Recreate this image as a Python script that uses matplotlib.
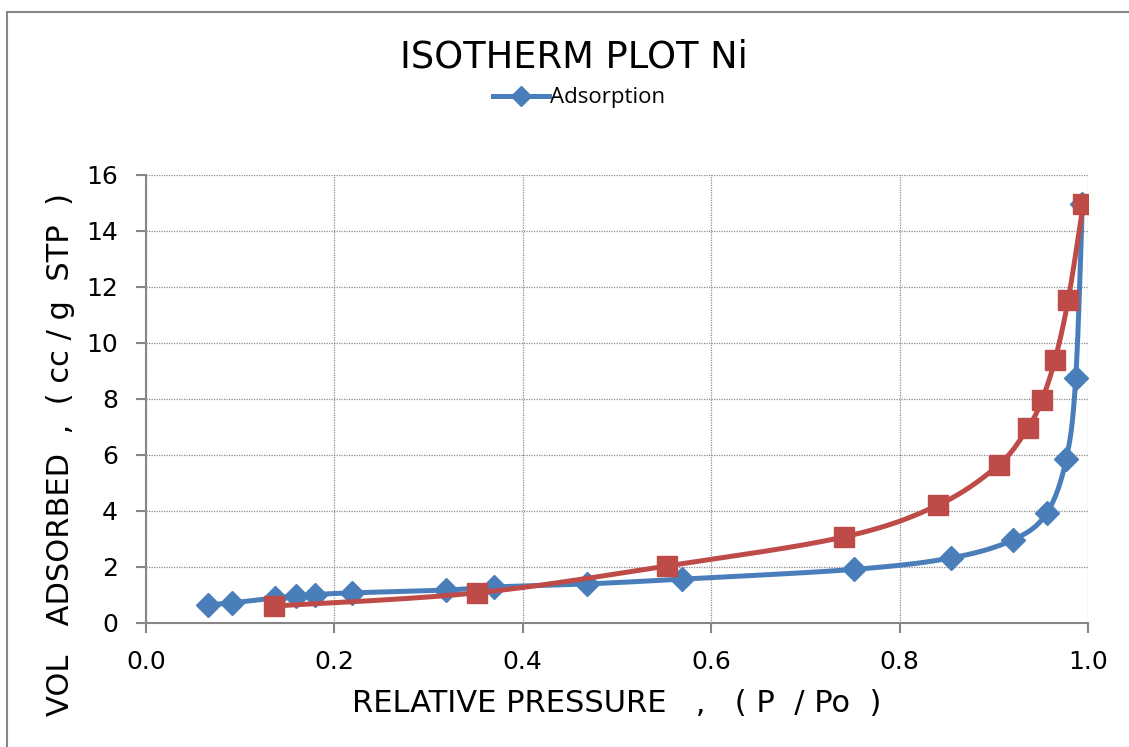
import numpy as np
import matplotlib
matplotlib.use("Agg")
import matplotlib.pyplot as plt
from matplotlib.patches import Rectangle

ads_x = [0.066, 0.091, 0.137, 0.159, 0.179, 0.219, 0.318, 0.369, 0.468, 0.569, 0.752, 0.855, 0.920, 0.956, 0.977, 0.987, 0.994]
ads_y = [0.63, 0.70, 0.88, 0.95, 1.00, 1.06, 1.16, 1.27, 1.38, 1.55, 1.90, 2.31, 2.95, 3.90, 5.86, 8.75, 14.95]
des_x = [0.136, 0.351, 0.553, 0.741, 0.841, 0.905, 0.936, 0.951, 0.965, 0.979, 0.995]
des_y = [0.59, 1.06, 2.02, 3.06, 4.20, 5.63, 6.95, 7.95, 9.40, 11.54, 14.96]

x_ticks = [0.0, 0.2, 0.4, 0.6, 0.8, 1.0]
y_ticks = [0, 2, 4, 6, 8, 10, 12, 14, 16]

BLUE = "#4A7EBB"
RED = "#BE4B48"


def smooth(xs, ys, n=20, t=0.5):
    # Catmull-Rom style smoothing for display only (like Excel's smoothed line)
    xs = np.asarray(xs, float); ys = np.asarray(ys, float)
    P = np.column_stack([xs, ys])
    P = np.vstack([P[0], P, P[-1]])
    out = []
    for i in range(1, len(P) - 2):
        p0, p1, p2, p3 = P[i - 1], P[i], P[i + 1], P[i + 2]
        c1 = p1 + (p2 - p0) * t / 3
        c2 = p2 - (p3 - p1) * t / 3
        s = np.linspace(0, 1, n)[:, None]
        seg = (1 - s) ** 3 * p1 + 3 * (1 - s) ** 2 * s * c1 + 3 * (1 - s) * s ** 2 * c2 + s ** 3 * p2
        out.append(seg if i == 1 else seg[1:])
    seg = np.vstack(out)
    return seg[:, 0], seg[:, 1]


W, H = 1129, 747
fig = plt.figure(figsize=(W / 100, H / 100), dpi=100)
fig.patches.append(Rectangle((7 / W, -0.1), 1.2, (H - 12) / H + 0.1,
                             transform=fig.transFigure, fill=False,
                             edgecolor="#878787", linewidth=1.5))

ax = fig.add_axes([146 / W, (H - 622.5) / H, (1088 - 146) / W, (622.5 - 175) / H])

sx, sy = smooth(ads_x, ads_y)
ax.plot(sx, sy, color=BLUE, lw=3.6, zorder=3, solid_capstyle="round")
ax.plot(ads_x, ads_y, ls="none", marker="D", ms=12, color=BLUE, zorder=4)
rx, ry = smooth(des_x, des_y)
ax.plot(rx, ry, color=RED, lw=3.6, zorder=5, solid_capstyle="round")
ax.plot(des_x, des_y, ls="none", marker="s", ms=14, color=RED, zorder=6)

ax.plot([], [], color=BLUE, lw=3.6, marker="D", ms=10, label="Adsorption")

ax.set_xlim(0, 1.0)
ax.set_ylim(0, 16)
ax.set_xticks(x_ticks)
ax.set_xticklabels([f"{v:.1f}" for v in x_ticks])
ax.set_yticks(y_ticks)
ax.set_yticklabels([str(v) for v in y_ticks])
ax.grid(True, color="#8C8C8C", ls=(0, (1, 1)), lw=0.9)
ax.set_axisbelow(True)
for s in ["top", "right"]:
    ax.spines[s].set_visible(False)
for s in ["left", "bottom"]:
    ax.spines[s].set_color("#868686")
    ax.spines[s].set_linewidth(1.5)
ax.tick_params(axis="both", direction="out", length=7, width=1.5, color="#868686",
               labelsize=18, labelcolor="black")
ax.tick_params(axis="x", pad=13)
ax.tick_params(axis="y", pad=13)

fig.text(617 / W, 1 - 703 / H, "RELATIVE PRESSURE   ,   ( P  / Po  )",
         ha="center", va="center", fontsize=22)
fig.text(61 / W, 1 - 454 / H, "VOL   ADSORBED  ,  ( cc / g  STP  )",
         ha="center", va="center", fontsize=22, rotation=90)

fig.text(574 / W, 1 - 57 / H, "ISOTHERM PLOT Ni", ha="center", va="center", fontsize=26.5)
leg = fig.legend(handles=ax.get_lines()[-1:], loc="center", bbox_to_anchor=(579 / W, 1 - 98 / H),
                 frameon=False, prop={"family": "Open Sans", "size": 16},
                 handlelength=2.5, handletextpad=0.05)

fig.savefig("out.png", dpi=100)
